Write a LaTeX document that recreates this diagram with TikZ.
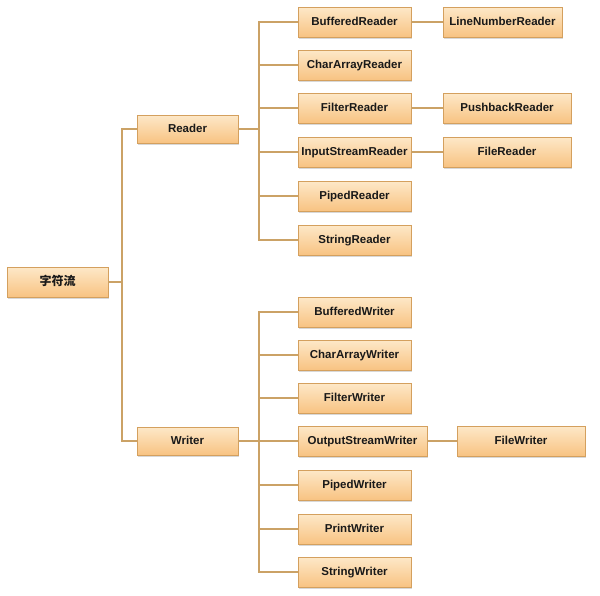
\documentclass[tikz,border=0pt]{standalone}
\usepackage{fontspec}
\setmainfont{Liberation Sans}
\newfontfamily\cjk{Noto Sans CJK SC}
\usetikzlibrary{shadows}

\definecolor{boxtop}{HTML}{FDE8C8}
\definecolor{boxbot}{HTML}{F8C382}
\definecolor{boxline}{HTML}{D4A05E}
\definecolor{wirecol}{HTML}{CBA266}

\begin{document}
\begin{tikzpicture}[
  x=1pt, y=-1pt,
  cls/.style={draw=boxline, line width=0.8pt, top color=boxtop, bottom color=boxbot,
    minimum height=30pt, inner sep=0pt, text height=8.5pt, text depth=0.6pt,
    text=black!90, font=\bfseries\fontsize{11.5}{13}\selectfont,
    drop shadow={shadow xshift=1.2pt, shadow yshift=-1.5pt, opacity=0.3}},
  wire/.style={draw=wirecol, line width=1.5pt},
]
  \fill[white] (0,0) rectangle (600,595);
  \useasboundingbox (0,0) rectangle (600,595);

  % 根与两大类
  \node[cls, minimum width=101pt, font=\fontsize{12}{14}\selectfont] (root) at (57.5,282) {\cjk\bfseries 字符流};
  \node[cls, minimum width=101pt, minimum height=28pt] (reader) at (187.5,129) {Reader};
  \node[cls, minimum width=101pt, minimum height=28pt] (writer) at (187.5,441) {Writer};

  \coordinate (jroot) at (122,282);
  \coordinate (jr) at (259,129);
  \coordinate (jw) at (259,441);

  \draw[wire] (root.east) -- (jroot);
  \draw[wire] (reader.west) -| (jroot) |- (writer.west);
  \draw[wire] (reader.east) -- (jr);
  \draw[wire] (writer.east) -- (jw);

  % Reader 子类
  \foreach \nm/\txt/\yy in {rbuf/BufferedReader/22, rchar/CharArrayReader/65,
      rfilt/FilterReader/108, rinp/InputStreamReader/152,
      rpipe/PipedReader/196, rstr/StringReader/240} {
    \node[cls, minimum width=113pt] (\nm) at (354.5,\yy) {\txt};
    \draw[wire] (jr) |- (\nm.west);
  }

  % Writer 子类
  \foreach \nm/\txt/\yy in {wbuf/BufferedWriter/312, wchar/CharArrayWriter/355,
      wfilt/FilterWriter/398, wpipe/PipedWriter/485,
      wprint/PrintWriter/529, wstr/StringWriter/572} {
    \node[cls, minimum width=113pt] (\nm) at (354.5,\yy) {\txt};
    \draw[wire] (jw) |- (\nm.west);
  }
  \node[cls, minimum width=129pt] (wout) at (362.5,441) {OutputStreamWriter};
  \draw[wire] (jw) -- (wout.west);

  % 第三层
  \node[cls, minimum width=119pt] (rline) at (502.5,22)  {LineNumberReader};
  \node[cls, minimum width=128pt] (rpush) at (507,108)   {PushbackReader};
  \node[cls, minimum width=128pt] (rfile) at (507,152)   {FileReader};
  \node[cls, minimum width=128pt] (wfile) at (521,441)   {FileWriter};

  \draw[wire] (rbuf)  -- (rline);
  \draw[wire] (rfilt) -- (rpush);
  \draw[wire] (rinp)  -- (rfile);
  \draw[wire] (wout)  -- (wfile);
\end{tikzpicture}
\end{document}
